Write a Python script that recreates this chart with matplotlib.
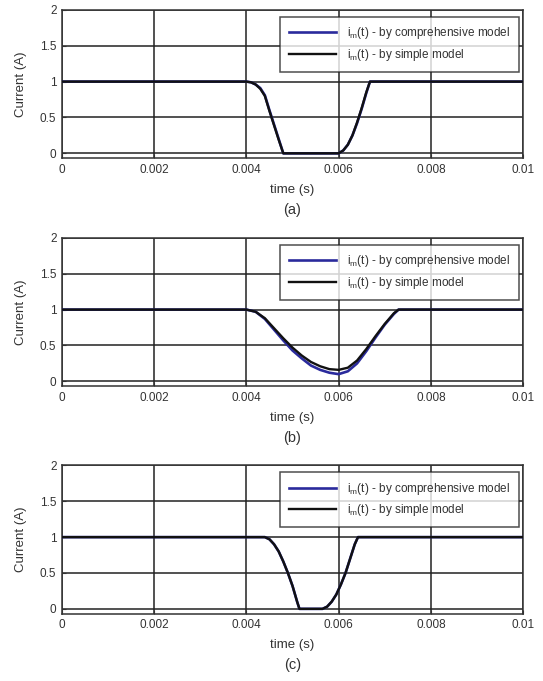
import numpy as np
import matplotlib
matplotlib.use("Agg")
import matplotlib.pyplot as plt

plt.rcParams['font.family'] = ['Liberation Sans', 'DejaVu Sans']

# time points (ms) and currents (A)
# (a)
ta_comp = [0, 4.0, 4.1, 4.2, 4.3, 4.4, 4.5, 4.6, 4.7, 4.8, 6.0, 6.1, 6.2, 6.3, 6.4, 6.5, 6.6, 6.68, 10]
ia_comp = [1, 1.0, 0.99, 0.96, 0.91, 0.81, 0.60, 0.40, 0.20, 0.0, 0.0, 0.04, 0.12, 0.25, 0.42, 0.62, 0.84, 1.0, 1]
ta_simp = [0, 4.0, 4.1, 4.2, 4.3, 4.4, 4.5, 4.6, 4.7, 4.8, 6.0, 6.1, 6.2, 6.3, 6.4, 6.5, 6.6, 6.68, 10]
ia_simp = [1, 1.0, 0.99, 0.96, 0.90, 0.80, 0.59, 0.39, 0.19, 0.0, 0.0, 0.04, 0.12, 0.25, 0.43, 0.63, 0.85, 1.0, 1]

# (b)
tb = [0, 4.0, 4.2, 4.4, 4.6, 4.8, 5.0, 5.2, 5.4, 5.6, 5.8, 6.0, 6.2, 6.4, 6.6, 6.8, 7.0, 7.2, 7.3, 10]
ib_comp = [1, 1.0, 0.97, 0.87, 0.72, 0.57, 0.43, 0.32, 0.22, 0.16, 0.12, 0.10, 0.14, 0.25, 0.42, 0.61, 0.79, 0.94, 1.0, 1]
ib_simp = [1, 1.0, 0.97, 0.88, 0.74, 0.60, 0.47, 0.36, 0.27, 0.21, 0.17, 0.16, 0.19, 0.29, 0.45, 0.63, 0.80, 0.95, 1.0, 1]

# (c)
tc = [0, 4.4, 4.5, 4.6, 4.7, 4.8, 4.9, 5.0, 5.1, 5.15, 5.65, 5.75, 5.85, 5.95, 6.05, 6.15, 6.25, 6.35, 6.42, 10]
ic_comp = [1, 1.0, 0.97, 0.90, 0.80, 0.66, 0.50, 0.32, 0.10, 0.0, 0.0, 0.03, 0.10, 0.20, 0.34, 0.50, 0.70, 0.90, 1.0, 1]
ic_simp = [1, 1.0, 0.97, 0.90, 0.80, 0.66, 0.50, 0.32, 0.10, 0.0, 0.0, 0.03, 0.10, 0.20, 0.34, 0.50, 0.70, 0.90, 1.0, 1]

xticks = [0, 0.002, 0.004, 0.006, 0.008, 0.01]
xticklabels = ['0', '0.002', '0.004', '0.006', '0.008', '0.01']
yticks = [0, 0.5, 1, 1.5, 2]
yticklabels = ['0', '0.5', '1', '1.5', '2']

lab_comp = r'$\mathregular{i_m}$(t) - by comprehensive model'
lab_simp = r'$\mathregular{i_m}$(t) - by simple model'

panels = [
    (ta_comp, ia_comp, ta_simp, ia_simp, '(a)', 0.768),
    (tb, ib_comp, tb, ib_simp, '(b)', 0.4332),
    (tc, ic_comp, tc, ic_simp, '(c)', 0.0991),
]

blue = '#2a2a9c'
black = '#111111'
txt = '#333333'

fig = plt.figure(figsize=(5.43, 6.81), dpi=100)

for t1, i1, t2, i2, tag, bot in panels:
    ax = fig.add_axes([0.1142, bot, 0.849, 0.2175])
    ax.plot(np.array(t1) * 1e-3, i1, color=blue, lw=1.9, label=lab_comp, zorder=3)
    ax.plot(np.array(t2) * 1e-3, i2, color=black, lw=1.7, label=lab_simp, zorder=4)
    ax.set_xlim(0, 0.01)
    ax.set_ylim(-0.065, 2)
    ax.set_xticks(xticks)
    ax.set_xticklabels(xticklabels)
    ax.set_yticks(yticks)
    ax.set_yticklabels(yticklabels)
    ax.grid(True, color='#222222', lw=1.1)
    ax.set_axisbelow(True)
    ax.tick_params(direction='in', length=3, labelsize=8.5, colors=txt, pad=4)
    for s in ax.spines.values():
        s.set_color('#333333')
        s.set_linewidth(1.1)
    ax.set_ylabel('Current (A)', fontsize=9.5, color=txt, labelpad=9)
    ax.set_xlabel('time (s)', fontsize=9.5, color=txt, labelpad=6)
    ax.text(0.5, -0.35, tag, transform=ax.transAxes, ha='center', va='center',
            fontsize=10.5, color=txt)
    leg = ax.legend(loc='upper right', bbox_to_anchor=(0.991, 0.955), fontsize=8.5,
                    frameon=True, fancybox=False, edgecolor='#222222',
                    handlelength=4.0, handletextpad=0.9, labelspacing=0.45,
                    borderpad=0.75, borderaxespad=0)
    leg.get_frame().set_linewidth(1.1)
    for tx in leg.get_texts():
        tx.set_color(txt)

fig.savefig('out.png', dpi=100, facecolor='white')
